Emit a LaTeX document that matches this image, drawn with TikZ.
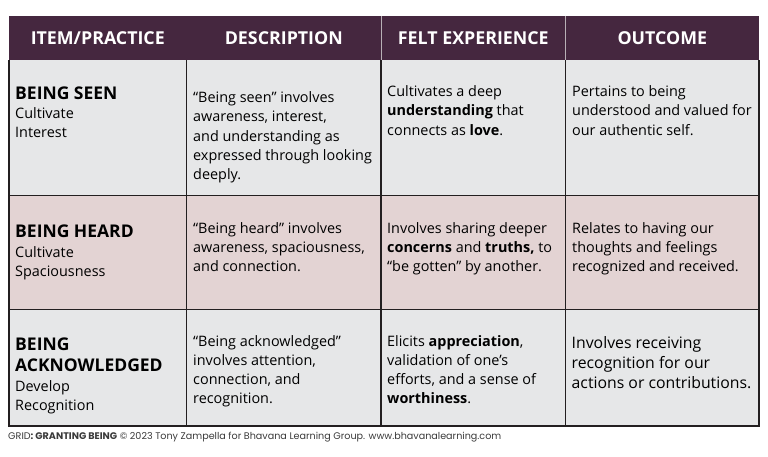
\documentclass[tikz,border=0pt]{standalone}
\usepackage{fontspec}
\setmainfont{Open Sans}
\newfontfamily\footfont{Poppins}
\definecolor{hdr}{HTML}{45273F}
\definecolor{rowgray}{HTML}{E6E7E8}
\definecolor{rowpink}{HTML}{E3D3D3}
\definecolor{gridline}{HTML}{231F20}
\definecolor{hdrline}{HTML}{B8B0B6}
\definecolor{foot}{HTML}{3A3A3A}
\tikzset{
  hdrtext/.style={anchor=base, inner sep=0pt, text=white, font=\fontsize{17.8}{20}\selectfont\bfseries},
  titletext/.style={anchor=base west, inner sep=0pt, align=left, font=\fontsize{17.5}{21.7}\selectfont\bfseries},
  celltext/.style={anchor=base west, inner sep=0pt, align=left, font=\fontsize{14.4}{19.3}\selectfont},
  bigcell/.style={anchor=base west, inner sep=0pt, align=left, font=\fontsize{15.8}{20}\selectfont},
  gridrule/.style={draw=gridline, line width=1.5pt},
  hdrrule/.style={draw=hdrline, line width=1pt},
}
\begin{document}
\begin{tikzpicture}[x=1pt,y=-1pt]
\useasboundingbox (0,0) rectangle (768,457);
% backgrounds
\fill[hdr] (9,16) rectangle (759,60.5);
\fill[rowgray] (9,60.5) rectangle (759,195.7);
\fill[rowpink] (9,195.7) rectangle (759,309.3);
\fill[rowgray] (9,309.3) rectangle (759,426);
% header separators
\draw[hdrrule] (381,16) -- (381,60.5);
\draw[hdrrule] (565.7,16) -- (565.7,60.5);
% body grid
\draw[gridrule] (9,60.5) -- (9,426) -- (759,426) -- (759,60.5);
\draw[gridrule] (9,195.7) -- (759,195.7);
\draw[gridrule] (9,309.3) -- (759,309.3);
\draw[gridrule] (186.7,60.5) -- (186.7,426);
\draw[gridrule] (381,60.5) -- (381,426);
\draw[gridrule] (565.7,60.5) -- (565.7,426);
% header texts
\node[hdrtext] (h1) at (97.8,45) {ITEM/PRACTICE};
\node[hdrtext] (h2) at (283.8,45) {DESCRIPTION};
\node[hdrtext] (h3) at (473.3,45) {FELT EXPERIENCE};
\node[hdrtext] (h4) at (662.3,45) {OUTCOME};
% row 1 (anchors at the baseline of the last line)
\node[titletext] (t1) at (15,99.3) {BEING SEEN};
\node[celltext] (s1) at (15,137.9) {Cultivate\\Interest};
\node[celltext] (d1) at (193,179.9) {“Being seen” involves\\awareness, interest,\\and understanding as\\expressed through looking\\deeply.};
\node[celltext] (f1) at (387,135.3) {Cultivates a deep\\\textbf{understanding} that\\connects as \textbf{love}.};
\node[celltext] (o1) at (572,135.3) {Pertains to being\\understood and valued for\\our authentic self.};
% row 2
\node[titletext] (t2) at (15,237.7) {BEING HEARD};
\node[celltext] (s2) at (15,276.3) {Cultivate\\Spaciousness};
\node[celltext] (d2) at (193,271.9) {“Being heard” involves\\awareness, spaciousness,\\and connection.};
\node[celltext] (f2) at (387,271.9) {Involves sharing deeper\\\textbf{concerns} and \textbf{truths,} to\\“be gotten” by another.};
\node[celltext] (o2) at (572,271.9) {Relates to having our\\thoughts and feelings\\recognized and received.};
% row 3
\node[titletext] (t3) at (15,371.7) {BEING\\ACKNOWLEDGED};
\node[celltext] (s3) at (15,410.3) {Develop\\Recognition};
\node[celltext] (d3) at (193,403.9) {“Being acknowledged”\\involves attention,\\connection, and\\recognition.};
\node[celltext] (f3) at (387,403.9) {Elicits \textbf{appreciation},\\validation of one’s\\efforts, and a sense of\\\textbf{worthiness}.};
\node[bigcell] (o3) at (571.5,388.7) {Involves receiving\\recognition for our\\actions or contributions.};
% footer
\node[anchor=base west, inner sep=0pt, text=foot, font=\footfont\fontsize{9.6}{11}\selectfont] (ft) at (8,439.5) {GRID\textbf{: GRANTING BEING} © 2023 Tony Zampella for Bhavana Learning Group. www.bhavanalearning.com};
\end{tikzpicture}
\end{document}
